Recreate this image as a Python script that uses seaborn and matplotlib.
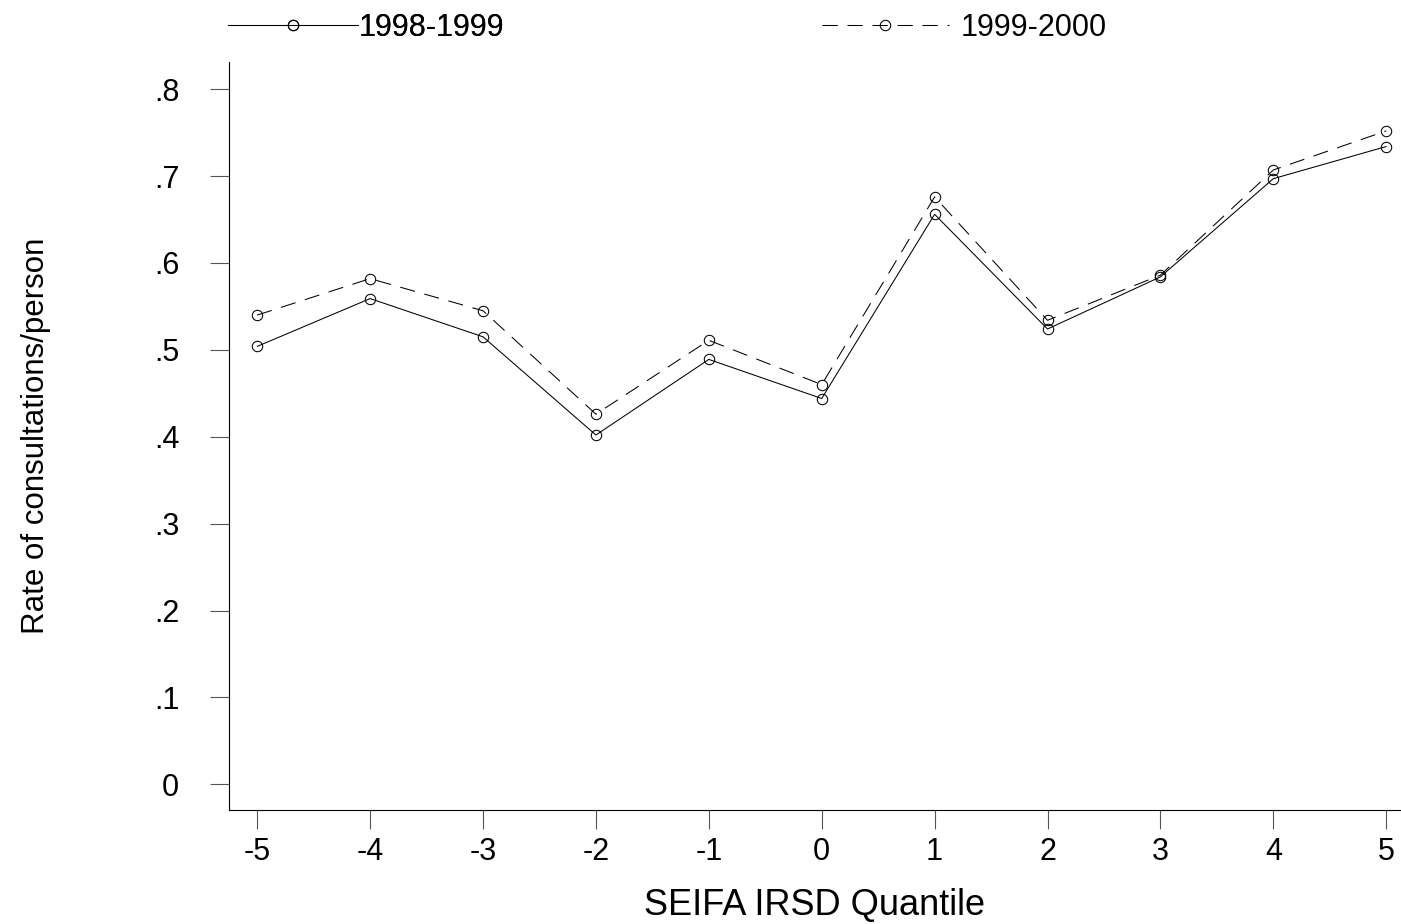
import numpy as np
import pandas as pd
import matplotlib
matplotlib.use("Agg")
import matplotlib.pyplot as plt
import seaborn as sns

# values
quantiles = [-5, -4, -3, -2, -1, 0, 1, 2, 3, 4, 5]
rate_9899 = [0.504, 0.559, 0.515, 0.402, 0.489, 0.444, 0.656, 0.524, 0.584, 0.697, 0.734]
rate_9900 = [0.540, 0.582, 0.545, 0.426, 0.511, 0.460, 0.676, 0.534, 0.586, 0.707, 0.752]
periods = ["1998-1999", "1999-2000"]
y_ticks = [0, 0.1, 0.2, 0.3, 0.4, 0.5, 0.6, 0.7, 0.8]
y_tick_labels = ["0", ".1", ".2", ".3", ".4", ".5", ".6", ".7", ".8"]

df = pd.DataFrame({
    "quantile": quantiles * 2,
    "rate": rate_9899 + rate_9900,
    "period": [periods[0]] * len(quantiles) + [periods[1]] * len(quantiles),
})

sns.set_style("white")
plt.rcParams["font.family"] = ["Liberation Sans", "DejaVu Sans"]
plt.rcParams["text.color"] = "black"
plt.rcParams["axes.labelcolor"] = "black"
plt.rcParams["xtick.color"] = "black"
plt.rcParams["ytick.color"] = "black"
plt.rcParams["lines.scale_dashes"] = False

fig = plt.figure(figsize=(14.01, 9.24), dpi=100)
ax = fig.add_axes([0.1632, 0.1231, 0.836, 0.8099])

sns.lineplot(data=df, x="quantile", y="rate", style="period",
             dashes={periods[0]: "", periods[1]: (11, 7)},
             markers={periods[0]: "o", periods[1]: "o"},
             color="black", linewidth=0.75, markersize=7.5,
             markerfacecolor="none", markeredgecolor="black",
             markeredgewidth=0.75, legend=False, ax=ax)

ax.set_xlim(-5.253, 5.121)
ax.set_ylim(-0.0299, 0.8314)
ax.set_xticks(quantiles)
ax.set_xticklabels([str(q) for q in quantiles], fontsize=22)
ax.set_yticks(y_ticks)
ax.set_yticklabels(y_tick_labels, fontsize=22)
ax.tick_params(axis="x", direction="out", length=13.5, width=0.8, color="#555555", pad=6, bottom=True)
ax.tick_params(axis="y", direction="out", length=13.5, width=0.8, color="#555555", pad=22, left=True)

for side in ["top", "right"]:
    ax.spines[side].set_visible(False)
for side in ["left", "bottom"]:
    ax.spines[side].set_color("black")
    ax.spines[side].set_linewidth(0.8)

ax.set_xlabel("SEIFA IRSD Quantile", fontsize=26, labelpad=15)
ax.set_ylabel("Rate of consultations/person", fontsize=22.5, labelpad=74)

leg1 = fig.legend(handles=[ax.lines[0]], labels=[periods[0]], loc="center left",
                  bbox_to_anchor=(0.1627, 0.970), frameon=False,
                  fontsize=22, handlelength=4.25, handletextpad=0.02,
                  borderpad=0, borderaxespad=0, numpoints=1)
fig.legend(handles=[ax.lines[1]], labels=[periods[1]], loc="center left",
           bbox_to_anchor=(0.5867, 0.970), frameon=False,
           fontsize=22, handlelength=4.15, handletextpad=0.4,
           borderpad=0, borderaxespad=0, numpoints=1)
fig.add_artist(leg1)

fig.savefig("out.png", dpi=100, facecolor="white")
